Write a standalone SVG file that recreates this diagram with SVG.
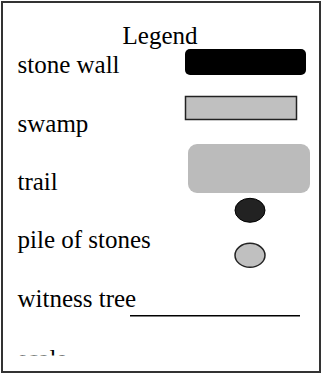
<svg xmlns="http://www.w3.org/2000/svg" width="322" height="374" viewBox="0 0 322 374">
<defs>
<style>
.t{font-family:"Liberation Serif","Times New Roman",serif;font-size:25px;fill:#000}
</style>
<clipPath id="clip"><rect x="0" y="0" width="322" height="355.5"/></clipPath>
</defs>
<rect x="0" y="0" width="322" height="374" fill="#fff"/>
<rect id="frame" x="2" y="2" width="318" height="370" fill="none" stroke="#333" stroke-width="2"/>
<g id="title"><text class="t" x="160" y="44" text-anchor="middle">Legend</text></g>
<g id="stone-wall">
<text class="t" x="17.5" y="73">stone wall</text>
<rect x="185" y="49" width="121" height="26" rx="5" fill="#000"/>
</g>
<g id="swamp">
<text class="t" x="17.5" y="132">swamp</text>
<rect x="185.5" y="96.5" width="111" height="23" fill="#c0c0c0" stroke="#222" stroke-width="1.5"/>
</g>
<g id="trail">
<text class="t" x="17.5" y="190">trail</text>
<rect x="188" y="144" width="122" height="49" rx="9" fill="#bbb"/>
</g>
<g id="pile-of-stones">
<text class="t" x="17.5" y="248">pile of stones</text>
<ellipse cx="250" cy="210.3" rx="15" ry="12" fill="#222" stroke="#000" stroke-width="1"/>
<ellipse cx="250" cy="255.3" rx="15" ry="12" fill="#c0c0c0" stroke="#222" stroke-width="1.5"/>
</g>
<g id="witness-tree">
<text class="t" x="17.5" y="307">witness tree</text>
<line x1="130" y1="315.7" x2="300" y2="315.7" stroke="#000" stroke-width="1.5"/>
</g>
<g id="scale" clip-path="url(#clip)">
<text class="t" x="17.5" y="366.5">scale</text>
</g>
</svg>
